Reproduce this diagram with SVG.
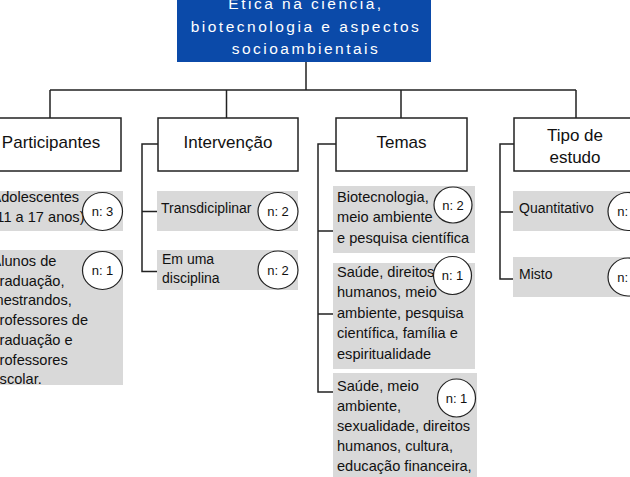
<svg xmlns="http://www.w3.org/2000/svg" width="630" height="477" viewBox="0 0 630 477">
<style>
text{font-family:"Liberation Sans",Arial,sans-serif;fill:#111}
.hd{font-size:17px;text-anchor:middle}
.it{font-size:14px}
.it2{font-size:14.6px}
.n{font-size:13px;text-anchor:middle}
.hbox{fill:#fff;stroke:#222;stroke-width:1.5}
.gbox{fill:#d9d9d9}
.circ{fill:#fff;stroke:#222;stroke-width:1.2}
.ln{fill:none;stroke:#222;stroke-width:1.5}
.top{font-size:15.5px;fill:#fff;text-anchor:middle;letter-spacing:2.5px}
</style>
<rect width="630" height="477" fill="#fff"/>
<g id="connectors">
<path class="ln" d="M306,62V90M50,90H576M50,90V118M226.5,90V118M401,90V118M576,90V118"/>
<path class="ln" d="M158,144H142V271.5H157M142,211.5H157"/>
<path class="ln" d="M336,144H318V392H333M318,231H333M318,314H333"/>
<path class="ln" d="M514,144H500V279H513M500,212H513"/>
</g>
<g id="root">
<rect x="177" y="-10" width="254" height="72" fill="#0b4aa9"/>
<text class="top" x="306" y="8.5">Ética na ciência,</text>
<text class="top" x="306" y="31.5">biotecnologia e aspectos</text>
<text class="top" x="306" y="54">socioambientais</text>
</g>
<g id="participantes">
<rect class="hbox" x="-20" y="118" width="141" height="53"/>
<text class="hd" x="51" y="148">Participantes</text>
</g>
<g id="intervencao">
<rect class="hbox" x="158" y="118" width="140" height="53"/>
<text class="hd" x="228" y="148">Intervenção</text>
</g>
<g id="temas">
<rect class="hbox" x="336" y="118" width="131" height="53"/>
<text class="hd" x="401.5" y="148">Temas</text>
</g>
<g id="tipo">
<rect class="hbox" x="514" y="118" width="130" height="53"/>
<text class="hd" x="575" y="141">Tipo de</text>
<text class="hd" x="575" y="163">estudo</text>
</g>
<g id="p1">
<rect class="gbox" x="-20" y="191" width="143" height="40"/>
<text class="it2" x="-8.5" y="202">Adolescentes</text>
<text class="it2" x="-8.5" y="222">(11 a 17 anos)</text>
<ellipse class="circ" cx="102.5" cy="211.5" rx="20" ry="19"/>
<text class="n" x="102.5" y="216">n: 3</text>
</g>
<g id="p2">
<rect class="gbox" x="-20" y="250" width="143" height="135"/>
<text class="it2" x="-8.5" y="266">Alunos de</text>
<text class="it2" x="-8.5" y="285.7">graduação,</text>
<text class="it2" x="-8.5" y="305.4">mestrandos,</text>
<text class="it2" x="-8.5" y="325.1">professores de</text>
<text class="it2" x="-8.5" y="344.8">graduação e</text>
<text class="it2" x="-8.5" y="364.5">professores</text>
<text class="it2" x="-8.5" y="384">escolar.</text>
<ellipse class="circ" cx="102.5" cy="270.5" rx="20" ry="19"/>
<text class="n" x="102.5" y="275">n: 1</text>
</g>
<g id="i1">
<rect class="gbox" x="157" y="191" width="141" height="40"/>
<text class="it" x="161" y="213">Transdiciplinar</text>
<ellipse class="circ" cx="278" cy="211.5" rx="20" ry="19"/>
<text class="n" x="278" y="216">n: 2</text>
</g>
<g id="i2">
<rect class="gbox" x="157" y="250" width="141" height="40"/>
<text class="it" x="162" y="264">Em uma</text>
<text class="it" x="162" y="283">disciplina</text>
<ellipse class="circ" cx="278" cy="270" rx="20" ry="19"/>
<text class="n" x="278" y="274.5">n: 2</text>
</g>
<g id="t1">
<rect class="gbox" x="333" y="186" width="142" height="67"/>
<text class="it2" x="337" y="201.5">Biotecnologia,</text>
<text class="it2" x="337" y="222">meio ambiente</text>
<text class="it2" x="337" y="242.5">e pesquisa científica</text>
<ellipse class="circ" cx="453" cy="205" rx="19" ry="18"/>
<text class="n" x="453" y="209.5">n: 2</text>
</g>
<g id="t2">
<rect class="gbox" x="333" y="263" width="142" height="106"/>
<text class="it2" x="337" y="276.5">Saúde, direitos</text>
<text class="it2" x="337" y="297">humanos, meio</text>
<text class="it2" x="337" y="317.5">ambiente, pesquisa</text>
<text class="it2" x="337" y="338">científica, família e</text>
<text class="it2" x="337" y="358.5">espiritualidade</text>
<ellipse class="circ" cx="452.5" cy="275.5" rx="19" ry="19"/>
<text class="n" x="452.5" y="280">n: 1</text>
</g>
<g id="t3">
<rect class="gbox" x="333" y="373" width="144" height="110"/>
<text class="it2" x="337" y="391">Saúde, meio</text>
<text class="it2" x="337" y="411">ambiente,</text>
<text class="it2" x="337" y="431">sexualidade, direitos</text>
<text class="it2" x="337" y="451">humanos, cultura,</text>
<text class="it2" x="337" y="471">educação financeira,</text>
<ellipse class="circ" cx="456.5" cy="398" rx="19" ry="19"/>
<text class="n" x="456.5" y="402.5">n: 1</text>
</g>
<g id="e1">
<rect class="gbox" x="513" y="191" width="130" height="40"/>
<text class="it" x="519" y="213">Quantitativo</text>
<ellipse class="circ" cx="628" cy="211.5" rx="20" ry="19"/>
<text class="n" x="628" y="216">n: 1</text>
</g>
<g id="e2">
<rect class="gbox" x="513" y="257" width="130" height="40"/>
<text class="it" x="519" y="279">Misto</text>
<ellipse class="circ" cx="628" cy="277" rx="20" ry="19"/>
<text class="n" x="628" y="281.5">n: 1</text>
</g>
</svg>
